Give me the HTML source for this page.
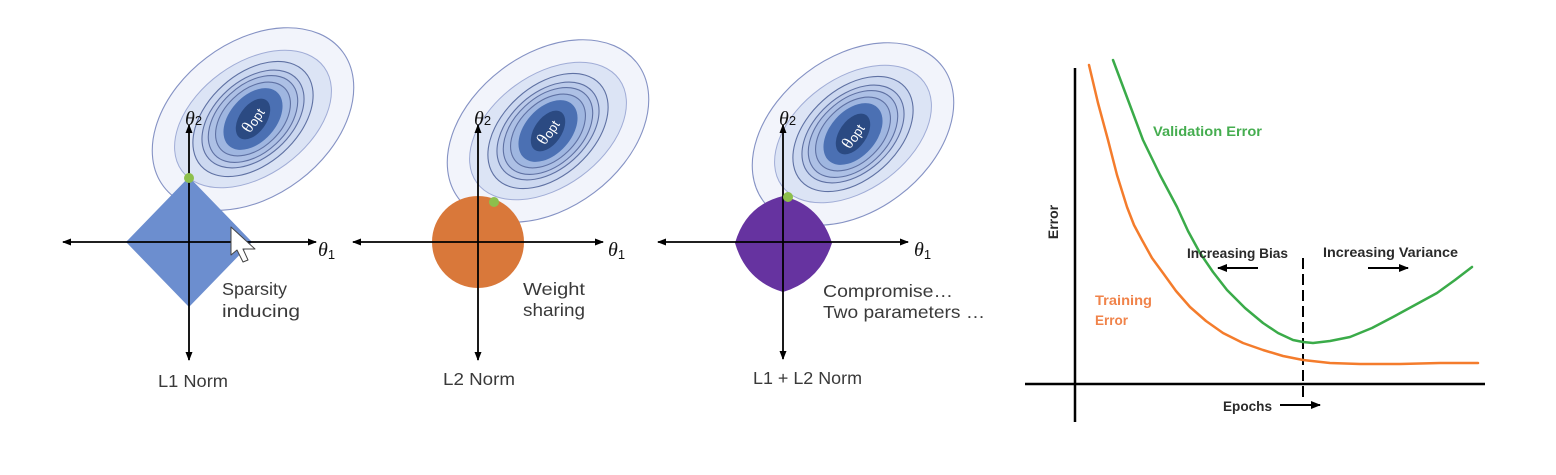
<!DOCTYPE html>
<html>
<head>
<meta charset="utf-8">
<style>
  html,body{margin:0;padding:0;background:#fff;}
  body{width:1556px;height:475px;overflow:hidden;}
  svg{display:block;}
  .lbl{font-family:"Liberation Sans",sans-serif;font-size:17.5px;fill:#3a3a3a;}
  .th{font-family:"Liberation Serif",serif;font-style:italic;font-size:20px;fill:#111;}
  .sub{font-family:"Liberation Sans",sans-serif;font-style:normal;font-size:13px;fill:#111;}
  .ch{font-family:"Liberation Sans",sans-serif;font-weight:bold;font-size:14px;fill:#2a2a2a;}
</style>
</head>
<body>
<svg width="1556" height="475" viewBox="0 0 1556 475" xmlns="http://www.w3.org/2000/svg">
  <defs>
    <marker id="ah" markerWidth="9" markerHeight="8" refX="8" refY="4" orient="auto-start-reverse" markerUnits="userSpaceOnUse">
      <path d="M0,0.5 L9,4 L0,7.5 z" fill="#000"/>
    </marker>
    <marker id="ah2" markerWidth="10" markerHeight="9" refX="9" refY="4.5" orient="auto-start-reverse" markerUnits="userSpaceOnUse">
      <path d="M0,0.5 L10,4.5 L0,8.5 z" fill="#000"/>
    </marker>
    <g id="ell">
      <ellipse rx="112" ry="77" transform="rotate(-37)" fill="#f2f4fb" stroke="#8592c4" stroke-width="1.1"/>
      <ellipse rx="88" ry="56" transform="rotate(-36)" fill="#dce4f5" stroke="#a0acd6" stroke-width="1"/>
      <ellipse rx="70" ry="45" transform="rotate(-42)" fill="#ccd8f0" stroke="#5f71a3" stroke-width="1.1"/>
      <ellipse rx="59.4" ry="38.3" transform="rotate(-42)" fill="#bccbea" stroke="#5f71a3" stroke-width="1.1"/>
      <ellipse rx="52.4" ry="33.8" transform="rotate(-43)" fill="#adc0e5" stroke="#5f71a3" stroke-width="1.1"/>
      <ellipse rx="44.2" ry="28.5" transform="rotate(-44)" fill="#9fb6e0" stroke="#5f71a3" stroke-width="1.1"/>
      <ellipse rx="36" ry="23" transform="rotate(-48)" fill="#4b70b3"/>
      <ellipse rx="23" ry="13.5" transform="rotate(-55)" fill="#2b4a82"/>
    </g>
  </defs>

  <!-- ============ PANEL 1 : L1 ============ -->
  <g transform="translate(253,119)"><use href="#ell"/></g>
  <text transform="translate(253,120) rotate(-57)" text-anchor="middle" y="5" font-family="Liberation Serif,serif" font-size="17" fill="#fff">θ<tspan font-family="Liberation Sans,sans-serif" font-size="13" dy="1">opt</tspan></text>
  <polygon points="189,177 252,242 189,307 126,242" fill="#6c8ecf"/>
  <line x1="63" y1="242" x2="316" y2="242" stroke="#000" stroke-width="1.8" marker-start="url(#ah)" marker-end="url(#ah)"/>
  <line x1="189" y1="125" x2="189" y2="360" stroke="#000" stroke-width="1.8" marker-start="url(#ah)" marker-end="url(#ah)"/>
  <circle cx="189" cy="178" r="5" fill="#8dbf4c"/>
  <polygon points="231,227 231,255 237,250 243,262 248,260 243,249 255,249" fill="#fff" stroke="#444" stroke-width="1" stroke-linejoin="round"/>
  <text class="th" x="185" y="125">θ<tspan class="sub" font-size="15" dy="0">2</tspan></text>
  <text class="th" x="318" y="256">θ<tspan class="sub" dy="3">1</tspan></text>
  <text class="lbl" x="222" y="295" textLength="65" lengthAdjust="spacingAndGlyphs">Sparsity</text>
  <text class="lbl" x="222" y="317" textLength="78" lengthAdjust="spacingAndGlyphs">inducing</text>
  <text class="lbl" x="158" y="387" textLength="70" lengthAdjust="spacingAndGlyphs">L1 Norm</text>

  <!-- ============ PANEL 2 : L2 ============ -->
  <g transform="translate(548,131)"><use href="#ell"/></g>
  <text transform="translate(548,132) rotate(-57)" text-anchor="middle" y="5" font-family="Liberation Serif,serif" font-size="17" fill="#fff">θ<tspan font-family="Liberation Sans,sans-serif" font-size="13" dy="1">opt</tspan></text>
  <circle cx="478" cy="242" r="46" fill="#d9783a"/>
  <line x1="353" y1="242" x2="603" y2="242" stroke="#000" stroke-width="1.8" marker-start="url(#ah)" marker-end="url(#ah)"/>
  <line x1="478" y1="125" x2="478" y2="360" stroke="#000" stroke-width="1.8" marker-start="url(#ah)" marker-end="url(#ah)"/>
  <circle cx="494" cy="202" r="5" fill="#8dbf4c"/>
  <text class="th" x="474" y="125">θ<tspan class="sub" font-size="15" dy="0">2</tspan></text>
  <text class="th" x="608" y="256">θ<tspan class="sub" dy="3">1</tspan></text>
  <text class="lbl" x="523" y="295" textLength="62" lengthAdjust="spacingAndGlyphs">Weight</text>
  <text class="lbl" x="523" y="316" textLength="62" lengthAdjust="spacingAndGlyphs">sharing</text>
  <text class="lbl" x="443" y="385" textLength="72" lengthAdjust="spacingAndGlyphs">L2 Norm</text>

  <!-- ============ PANEL 3 : L1+L2 ============ -->
  <g transform="translate(853,134)"><use href="#ell"/></g>
  <text transform="translate(853,136) rotate(-57)" text-anchor="middle" y="5" font-family="Liberation Serif,serif" font-size="17" fill="#fff">θ<tspan font-family="Liberation Sans,sans-serif" font-size="13" dy="1">opt</tspan></text>
  <path d="M783 196 Q820 205 832 243 Q820 281 783 292 Q746 281 735 243 Q746 205 783 196 Z" fill="#6633a0"/>
  <line x1="658" y1="242" x2="908" y2="242" stroke="#000" stroke-width="1.8" marker-start="url(#ah)" marker-end="url(#ah)"/>
  <line x1="783" y1="125" x2="783" y2="359" stroke="#000" stroke-width="1.8" marker-start="url(#ah)" marker-end="url(#ah)"/>
  <circle cx="788" cy="197" r="5" fill="#8dbf4c"/>
  <text class="th" x="779" y="125">θ<tspan class="sub" font-size="15" dy="0">2</tspan></text>
  <text class="th" x="914" y="256">θ<tspan class="sub" dy="3">1</tspan></text>
  <text class="lbl" x="823" y="297" textLength="130" lengthAdjust="spacingAndGlyphs">Compromise…</text>
  <text class="lbl" x="823" y="318" textLength="162" lengthAdjust="spacingAndGlyphs">Two parameters …</text>
  <text class="lbl" x="753" y="384" textLength="109" lengthAdjust="spacingAndGlyphs">L1 + L2 Norm</text>

  <!-- ============ RIGHT CHART ============ -->
  <line x1="1075" y1="68" x2="1075" y2="422" stroke="#000" stroke-width="2.5"/>
  <line x1="1025" y1="384" x2="1485" y2="384" stroke="#000" stroke-width="2.5"/>
  <line x1="1303" y1="258" x2="1303" y2="398" stroke="#000" stroke-width="2" stroke-dasharray="11 5"/>

  <polyline fill="none" stroke="#f47c2c" stroke-width="2.5" stroke-linejoin="round" stroke-linecap="round"
    points="1089,65 1098,103 1108,140 1117,175 1127,207 1134,225 1142,240 1152,258 1163,273 1176,291 1190,307 1206,321 1223,333 1243,343 1263,350 1283,356 1303,360 1330,363 1360,364 1400,364 1440,363 1478,363"/>
  <polyline fill="none" stroke="#3aab49" stroke-width="2.5" stroke-linejoin="round" stroke-linecap="round"
    points="1113,60 1128,100 1143,140 1160,175 1177,207 1188,231 1200,253 1213,272 1227,290 1245,308 1263,323 1278,333 1293,340 1303,342 1313,343 1330,341 1350,337 1372,328 1393,317 1415,305 1437,293 1455,280 1472,267"/>

  <text class="ch" x="1153" y="136" style="fill:#45ad4f" textLength="109" lengthAdjust="spacingAndGlyphs">Validation Error</text>
  <text class="ch" x="1095" y="305" style="fill:#f0834a" textLength="57" lengthAdjust="spacingAndGlyphs">Training</text>
  <text class="ch" x="1095" y="325" style="fill:#f0834a" textLength="33" lengthAdjust="spacingAndGlyphs">Error</text>
  <text class="ch" x="1187" y="258" textLength="101" lengthAdjust="spacingAndGlyphs">Increasing Bias</text>
  <text class="ch" x="1323" y="257" textLength="135" lengthAdjust="spacingAndGlyphs">Increasing Variance</text>
  <text class="ch" x="1223" y="411" textLength="49" lengthAdjust="spacingAndGlyphs">Epochs</text>
  <text class="ch" transform="translate(1058,222) rotate(-90)" text-anchor="middle" x="0" y="0">Error</text>

  <line x1="1258" y1="268" x2="1218" y2="268" stroke="#000" stroke-width="2" marker-end="url(#ah2)"/>
  <line x1="1368" y1="268" x2="1408" y2="268" stroke="#000" stroke-width="2" marker-end="url(#ah2)"/>
  <line x1="1280" y1="405" x2="1320" y2="405" stroke="#000" stroke-width="2" marker-end="url(#ah2)"/>
</svg>
</body>
</html>
